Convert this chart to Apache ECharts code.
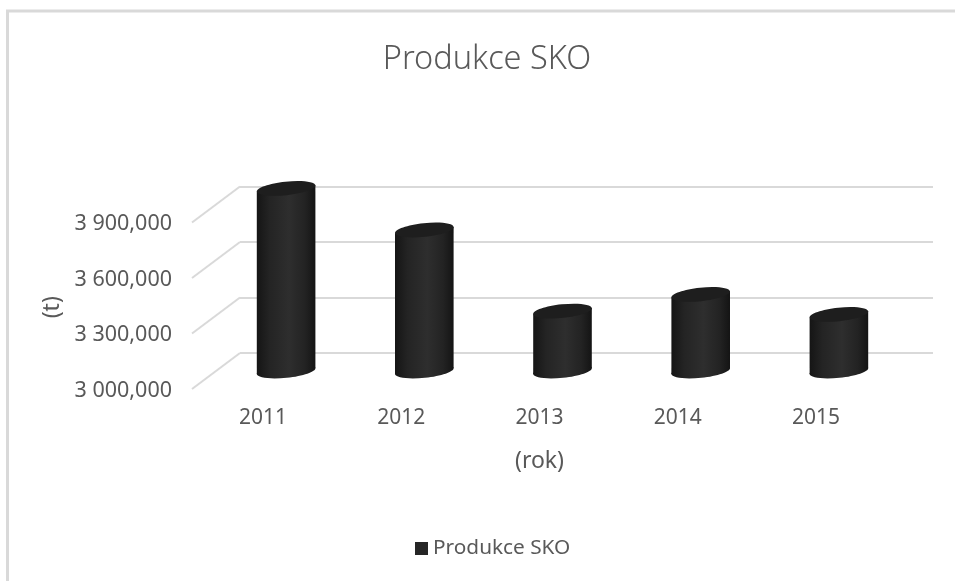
<!DOCTYPE html>
<html>
<head>
<meta charset="utf-8">
<style>html,body{margin:0;padding:0;background:#fff}#main{width:955px;height:581px}</style>
<script src="https://cdn.jsdelivr.net/npm/echarts@6/dist/echarts.min.js"></script>
</head>
<body>
<div id="main"></div>
<script>
const years = ['2011', '2012', '2013', '2014', '2015'];
const produkce = [3987000, 3762000, 3324000, 3414000, 3306000];
const yTicks = [3000000, 3300000, 3600000, 3900000];
const yTickLabels = ['3 000,000', '3 300,000', '3 600,000', '3 900,000'];

const font = '"Noto Sans", sans-serif';
const textColor = '#595959';
const gridColor = '#d9d9d9';

var myChart = echarts.init(document.getElementById('main'));

// 3D look: back wall (0), front plane with the labels (1), bars in between (2)
function cylinder(params, api) {
  var idx = api.value(0);
  var top = api.coord([idx, api.value(1)]);
  var bottom = api.coord([idx, yTicks[0]]);
  var rx = 29.3, tilt = 3.1;
  var side = new echarts.graphic.LinearGradient(0, 0, 1, 0, [
    { offset: 0, color: '#151515' },
    { offset: 0.22, color: '#242424' },
    { offset: 0.55, color: '#2e2e2e' },
    { offset: 0.82, color: '#232323' },
    { offset: 1, color: '#141414' }
  ]);
  function disc(p, fill) {
    return {
      type: 'ellipse',
      x: p[0], y: p[1], rotation: 6 * Math.PI / 180,
      shape: { cx: 0, cy: 0, rx: 29.5, ry: 6.8 },
      style: { fill: fill }
    };
  }
  return {
    type: 'group',
    children: [
      disc(bottom, side),
      {
        type: 'polygon',
        shape: {
          points: [
            [top[0] - rx, top[1] + tilt],
            [top[0] + rx, top[1] - tilt],
            [bottom[0] + rx, bottom[1] - tilt],
            [bottom[0] - rx, bottom[1] + tilt]
          ]
        },
        style: { fill: side }
      },
      disc(top, '#1e1e1e')
    ]
  };
}

function sideWall(params, api) {
  var y = api.coord([0, api.value(0)])[1];
  var x = params.coordSys.x;
  return {
    type: 'line',
    shape: { x1: x, y1: y, x2: x - 48, y2: y + 36 },
    style: { stroke: gridColor, lineWidth: 2 }
  };
}

var hiddenX = { type: 'category', data: years, show: false };

var option = {
  animation: false,
  backgroundColor: '#fff',
  title: {
    text: 'Produkce SKO',
    left: 482,
    top: 38,
    textAlign: 'center',
    textStyle: { fontFamily: font, fontSize: 32.5, fontWeight: 300, color: textColor }
  },
  legend: {
    data: ['Produkce SKO'],
    left: 410,
    top: 533,
    icon: 'rect',
    itemWidth: 13,
    itemHeight: 13,
    itemGap: 6,
    textStyle: { fontFamily: font, fontSize: 20.8, color: textColor }
  },
  grid: [
    { left: 240, top: 186.5, width: 693, height: 166.5 },
    { left: 194, top: 224, width: 691, height: 166.5 },
    { left: 217, top: 149, width: 691, height: 222 }
  ],
  xAxis: [
    Object.assign({ gridIndex: 0 }, hiddenX),
    {
      type: 'category',
      gridIndex: 1,
      data: years,
      name: '(rok)',
      nameLocation: 'middle',
      nameGap: 59,
      nameTextStyle: { fontFamily: font, fontSize: 23, color: textColor },
      axisLine: { show: false },
      axisTick: { show: false },
      axisLabel: { fontFamily: font, fontSize: 21, color: textColor, margin: 17 }
    },
    Object.assign({ gridIndex: 2 }, hiddenX)
  ],
  yAxis: [
    {
      type: 'value',
      gridIndex: 0,
      min: 3000000,
      max: 3900000,
      interval: 300000,
      axisLine: { show: false },
      axisTick: { show: false },
      axisLabel: { show: false },
      splitLine: { show: true, lineStyle: { color: gridColor, width: 2 } }
    },
    {
      type: 'value',
      gridIndex: 1,
      min: 3000000,
      max: 3900000,
      interval: 300000,
      name: '(t)',
      nameLocation: 'middle',
      nameGap: 130,
      nameTextStyle: { fontFamily: font, fontSize: 23, color: textColor },
      axisLine: { show: false },
      axisTick: { show: false },
      splitLine: { show: false },
      axisLabel: {
        fontFamily: font,
        fontSize: 21.5,
        color: textColor,
        margin: 22,
        formatter: function (v) { return yTickLabels[yTicks.indexOf(v)]; }
      }
    },
    {
      type: 'value',
      gridIndex: 2,
      min: 3000000,
      max: 4200000,
      show: false
    }
  ],
  series: [
    {
      name: 'walls',
      type: 'custom',
      xAxisIndex: 0,
      yAxisIndex: 0,
      renderItem: sideWall,
      encode: { y: 0 },
      data: yTicks.map(function (t) { return [t]; }),
      silent: true,
      z: 1
    },
    {
      name: 'Produkce SKO',
      type: 'custom',
      xAxisIndex: 2,
      yAxisIndex: 2,
      renderItem: cylinder,
      encode: { x: 0, y: 1 },
      data: produkce.map(function (v, i) { return [i, v]; }),
      itemStyle: { color: '#262626' },
      z: 5
    }
  ],
  graphic: [
    {
      type: 'polyline',
      shape: { points: [[7.5, 581], [7.5, 11], [955, 11]] },
      style: { stroke: gridColor, lineWidth: 3, fill: null },
      silent: true
    }
  ]
};

myChart.setOption(option);
</script>
</body>
</html>
